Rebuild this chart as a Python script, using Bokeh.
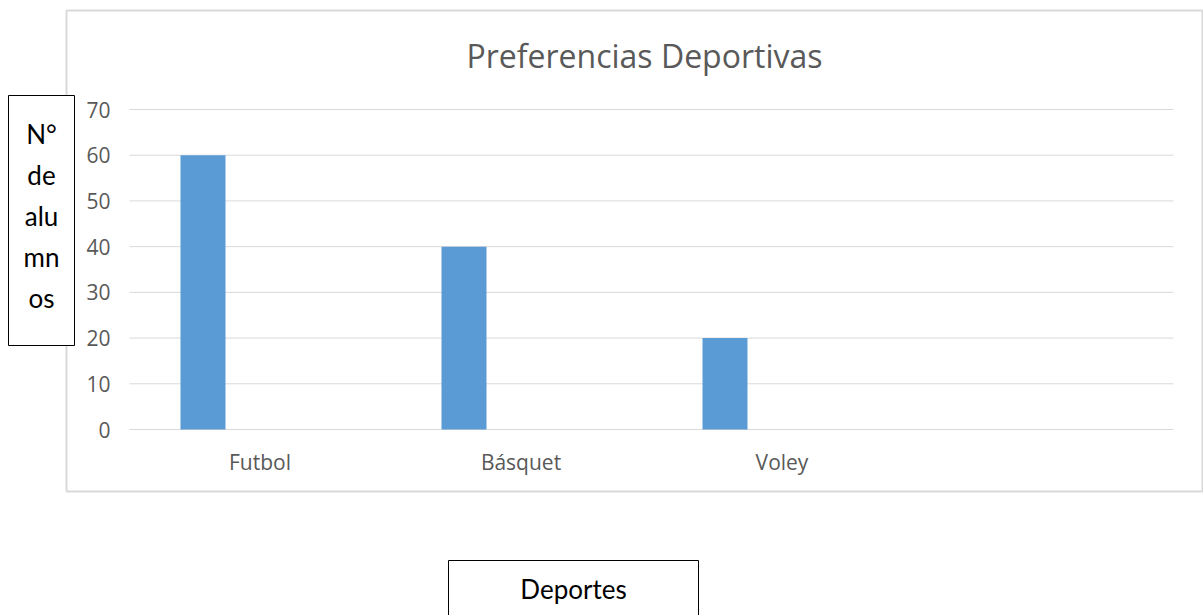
from bokeh.plotting import figure
from bokeh.models import Range1d, FixedTicker, BoxAnnotation, Label
from bokeh.embed import file_html
from bokeh.resources import INLINE

# ---- data ----
categories = ["Futbol", "Básquet", "Voley", ""]
values = [60, 40, 20]
y_ticks = [0, 10, 20, 30, 40, 50, 60, 70]
title_text = "Preferencias Deportivas"
y_label_lines = ["N°", "de", "alu", "mn", "os"]
x_label_text = "Deportes"

# ---- layout (pixel geometry of the plot area) ----
W, H = 1203, 615
FL, FR, FT, FB = 129, 1173, 109, 429
n_slots = len(categories)
y_max = y_ticks[-1]


def px2x(px):
    return (px - FL) / (FR - FL) * n_slots


def px2y(py):
    return (FB - py) / (FB - FT) * y_max


p = figure(width=W, height=H, output_backend="svg", toolbar_location=None,
           x_range=Range1d(px2x(0), px2x(W)), y_range=Range1d(px2y(H), px2y(0)),
           min_border_left=0, min_border_right=0, min_border_top=0, min_border_bottom=0,
           background_fill_color="white", border_fill_color="white")
p.outline_line_color = None
p.title.visible = False
p.xgrid.visible = False
p.ygrid.visible = False

# outer chart border
p.add_layout(BoxAnnotation(left=px2x(66), right=px2x(1202), top=px2y(10), bottom=px2y(491),
                           fill_alpha=0, line_color="#d9d9d9", line_alpha=1, line_width=2,
                           level="underlay"))

# horizontal gridlines
p.segment(x0=[0] * len(y_ticks), x1=[n_slots] * len(y_ticks), y0=y_ticks, y1=y_ticks,
          line_color="#d9d9d9", line_width=1)

# bars (first series of a clustered column chart)
offset = -0.2184
bar_w = 0.1724
xs = [i + 0.5 + offset for i in range(len(values))]
p.vbar(x=xs, top=values, width=bar_w, bottom=0, fill_color="#5b9bd5", line_color=None)

# axes, pinned to the plot-area edges
p.xaxis.fixed_location = 0
p.yaxis.fixed_location = 0
p.yaxis.ticker = FixedTicker(ticks=y_ticks)
p.xaxis.ticker = FixedTicker(ticks=[i + 0.5 for i in range(len(categories)) if categories[i]])
p.xaxis.major_label_overrides = {i + 0.5: c for i, c in enumerate(categories) if c}
for ax in (p.xaxis[0], p.yaxis[0]):
    ax.axis_line_color = None
    ax.major_tick_line_color = None
    ax.minor_tick_line_color = None
    ax.major_tick_in = 0
    ax.major_tick_out = 0
    ax.major_label_text_font = "Open Sans"
    ax.major_label_text_font_size = "21px"
    ax.major_label_text_color = "#595959"
p.yaxis.major_label_standoff = 19
p.xaxis.major_label_standoff = 18

# title
p.add_layout(Label(x=px2x(644), y=px2y(55), text=title_text, text_align="center",
                   text_baseline="alphabetic", text_font="Open Sans", text_font_size="32px",
                   text_color="#595959"))

# y label text box
p.add_layout(BoxAnnotation(left=px2x(8), right=px2x(74), top=px2y(95), bottom=px2y(345),
                           fill_color="white", fill_alpha=1, line_color="black", line_alpha=1,
                           line_width=1))
for k, t in enumerate(y_label_lines):
    p.add_layout(Label(x=px2x(41), y=px2y(133 + 41.2 * k), text=t, text_align="center",
                       text_baseline="alphabetic", text_font="Lato", text_font_size="26px",
                       text_color="black"))

# x label text box
p.add_layout(BoxAnnotation(left=px2x(448), right=px2x(698), top=px2y(560), bottom=px2y(625),
                           fill_color="white", fill_alpha=1, line_color="black", line_alpha=1,
                           line_width=1))
p.add_layout(Label(x=px2x(573), y=px2y(588), text=x_label_text, text_align="center",
                   text_baseline="alphabetic", text_font="Lato", text_font_size="26px",
                   text_color="black"))

open("out.html", "w").write(file_html(p, INLINE))
